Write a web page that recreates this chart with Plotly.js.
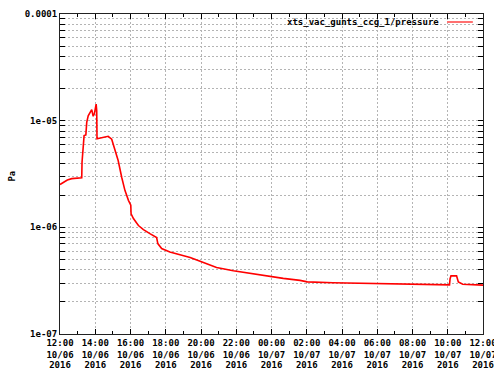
<!DOCTYPE html>
<html>
<head>
<meta charset="utf-8">
<script src="https://cdn.plot.ly/plotly-3.0.1.min.js"></script>
<style>html,body{margin:0;padding:0;background:#fff;}#chart{width:494px;height:368px;}</style>
</head>
<body>
<div id="chart"></div>
<script>
var seriesName = 'xts_vac_gunts_ccg_1/pressure';
var yTitle = 'Pa';
var times = [
 '2016-10-06 12:00','2016-10-06 12:10','2016-10-06 12:25','2016-10-06 12:40','2016-10-06 13:14',
 '2016-10-06 13:15','2016-10-06 13:18','2016-10-06 13:22','2016-10-06 13:28','2016-10-06 13:31',
 '2016-10-06 13:36','2016-10-06 13:45','2016-10-06 13:48','2016-10-06 13:53','2016-10-06 13:57',
 '2016-10-06 14:03','2016-10-06 14:05','2016-10-06 14:06','2016-10-06 14:27','2016-10-06 14:44',
 '2016-10-06 14:56','2016-10-06 15:07','2016-10-06 15:18','2016-10-06 15:30','2016-10-06 15:41',
 '2016-10-06 15:53','2016-10-06 16:01','2016-10-06 16:02','2016-10-06 16:10','2016-10-06 16:27',
 '2016-10-06 16:44','2016-10-06 17:06','2016-10-06 17:29','2016-10-06 17:33','2016-10-06 17:46',
 '2016-10-06 18:14','2016-10-06 18:49','2016-10-06 19:23','2016-10-06 19:57','2016-10-06 20:53',
 '2016-10-06 21:50','2016-10-06 22:47','2016-10-06 23:44','2016-10-07 00:40','2016-10-07 01:37',
 '2016-10-07 02:02','2016-10-07 03:29','2016-10-07 05:00','2016-10-07 07:17','2016-10-07 08:14',
 '2016-10-07 10:06','2016-10-07 10:08','2016-10-07 10:11','2016-10-07 10:30','2016-10-07 10:36',
 '2016-10-07 10:51','2016-10-07 12:00'
];
var pressure = [
 2.52e-6,2.62e-6,2.78e-6,2.86e-6,2.91e-6,
 4.07e-6,5.83e-6,7.24e-6,7.35e-6,9.64e-6,
 1.11e-5,1.24e-5,1.27e-5,1.10e-5,1.16e-5,
 1.43e-5,1.24e-5,6.75e-6,6.98e-6,7.13e-6,
 6.7e-6,5.44e-6,4.23e-6,2.95e-6,2.22e-6,
 1.79e-6,1.61e-6,1.34e-6,1.21e-6,1.04e-6,
 9.52e-7,8.73e-7,8.01e-7,7.04e-7,6.32e-7,
 5.88e-7,5.56e-7,5.21e-7,4.8e-7,4.2e-7,
 3.91e-7,3.69e-7,3.48e-7,3.32e-7,3.18e-7,
 3.08e-7,3.02e-7,2.98e-7,2.95e-7,2.91e-7,
 2.89e-7,3.3e-7,3.51e-7,3.51e-7,3.08e-7,
 2.93e-7,2.87e-7
];
var xTickVals = [
 '2016-10-06 12:00','2016-10-06 14:00','2016-10-06 16:00','2016-10-06 18:00','2016-10-06 20:00',
 '2016-10-06 22:00','2016-10-07 00:00','2016-10-07 02:00','2016-10-07 04:00','2016-10-07 06:00',
 '2016-10-07 08:00','2016-10-07 10:00','2016-10-07 12:00'
];
var yTickVals = [1e-7, 1e-6, 1e-5, 1e-4];
var yTickText = ['1e-07', '1e-06', '1e-05', '0.0001'];
var yMinorMult = [2, 3, 4, 5, 6, 7, 8, 9];
var yDecades = [1e-7, 1e-6, 1e-5];
var xRange = ['2016-10-06 12:00', '2016-10-07 12:00'];

var yMinor = [];
yDecades.forEach(function(d){ yMinorMult.forEach(function(m){ yMinor.push(m*d); }); });

var tickFont = {family: 'DejaVu Sans Mono', size: 9, color: '#000', weight: 'bold'};
var gridCol = '#b4b4b4';
var gridDash = '2px,2px';

var trace = {
  x: times, y: pressure, type: 'scatter', mode: 'lines',
  name: seriesName, showlegend: false,
  line: {color: '#ff0000', width: 1.6}
};
function ghost(xa) {
  return {x: times, y: pressure, xaxis: xa, type: 'scatter', mode: 'lines',
          showlegend: false, hoverinfo: 'skip', opacity: 0, line: {width: 0}};
}

function labelAxis(fmt, standoff) {
  return {
    type: 'date', range: xRange, overlaying: 'x', anchor: 'y', side: 'bottom',
    tickmode: 'array', tickvals: xTickVals, tickformat: fmt,
    tickfont: tickFont, ticks: '', ticklabelstandoff: standoff, ticklabeloverflow: 'allow',
    showgrid: false, showline: false, zeroline: false, fixedrange: true
  };
}

var layout = {
  width: 494, height: 368,
  margin: {l: 60, r: 11, t: 14, b: 34},
  paper_bgcolor: '#fff', plot_bgcolor: '#fff',
  showlegend: false,
  xaxis: {
    type: 'date', range: xRange,
    tickmode: 'array', tickvals: xTickVals,
    tickformat: '%H:%M', ticklabeloverflow: 'allow',
    tickfont: tickFont,
    ticks: 'inside', ticklen: 5, tickcolor: '#000', tickwidth: 1,
    showline: true, linecolor: '#222', linewidth: 1, mirror: 'allticks',
    showgrid: true, gridcolor: gridCol, griddash: gridDash, gridwidth: 1,
    minor: {dtick: 3600000, tick0: '2016-10-06 12:00', ticks: 'inside', ticklen: 3, tickcolor: '#000', showgrid: false},
    zeroline: false, fixedrange: true
  },
  xaxis2: labelAxis('%m/%d', 14),
  xaxis3: labelAxis('%Y', 24),
  yaxis: {
    type: 'log', range: [-7, -4],
    tickmode: 'array', tickvals: yTickVals, ticktext: yTickText,
    tickfont: tickFont,
    ticks: 'inside', ticklen: 5, tickcolor: '#000', tickwidth: 1,
    showline: true, linecolor: '#222', linewidth: 1, mirror: 'allticks',
    showgrid: true, gridcolor: gridCol, griddash: gridDash, gridwidth: 1,
    minor: {tickmode: 'array', tickvals: yMinor, ticks: 'inside', ticklen: 3, tickcolor: '#000',
            showgrid: true, gridcolor: gridCol, griddash: gridDash, gridwidth: 1},
    zeroline: false, fixedrange: true
  },
  annotations: [{
    xref: 'paper', yref: 'paper', x: 0.9007, y: 0.975,
    xanchor: 'right', yanchor: 'middle', showarrow: false,
    text: seriesName, font: tickFont
  }, {
    xref: 'paper', yref: 'paper', x: -0.1142, y: 0.494,
    xanchor: 'center', yanchor: 'middle', showarrow: false, textangle: -90,
    text: yTitle, font: tickFont
  }],
  shapes: [{
    type: 'line', xref: 'paper', yref: 'paper',
    x0: 0.915, x1: 0.976, y0: 0.975, y1: 0.975,
    line: {color: '#ff7070', width: 2}
  }]
};

Plotly.newPlot('chart', [trace, ghost('x2'), ghost('x3')], layout, {displayModeBar: false, staticPlot: true});
</script>
</body>
</html>
